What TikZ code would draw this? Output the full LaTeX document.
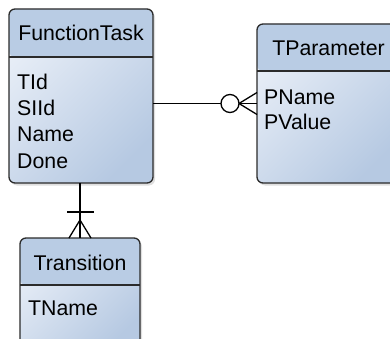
\documentclass[tikz,border=0pt]{standalone}
\usepackage{fontspec}
\setmainfont{Liberation Sans}
\usetikzlibrary{shadows}
\definecolor{hdr}{HTML}{B9CCE4}
\definecolor{bodylight}{HTML}{E8EEF7}
\definecolor{bodydark}{HTML}{B6C9E2}
\definecolor{edge}{HTML}{2B2B2B}
\begin{document}
\begin{tikzpicture}[x=1pt,y=-1pt,
  entity/.style={draw=edge, line width=1.3pt, rounded corners=6pt,
    top color=bodylight, bottom color=bodydark, shading angle=45,
    inner sep=0pt, outer sep=0pt,
    drop shadow={opacity=0.25, shadow xshift=2pt, shadow yshift=-2.5pt},
    path picture={
      \fill[hdr] (path picture bounding box.north west) rectangle
        ([yshift=-#1]path picture bounding box.north east);
      \draw[edge, line width=1.3pt] ([yshift=-#1]path picture bounding box.north west) --
        ([yshift=-#1]path picture bounding box.north east);}},
  ttl/.style={font=\fontsize{21.3}{25}\selectfont, inner sep=0pt, anchor=base},
  attr/.style={font=\fontsize{21.3}{25}\selectfont, inner sep=0pt, anchor=base west},
  conn/.style={line width=1.3pt, black}
]
\useasboundingbox (0,0) rectangle (390,339);

% FunctionTask
\node[entity=48pt, minimum width=144pt, minimum height=174pt] (ft) at (81,96) {};
\node[ttl] (ftt) at (81,40.5) {FunctionTask};
\node[attr] (fa1) at (17,90) {TId};
\node[attr] (fa2) at (17,116) {SIId};
\node[attr] (fa3) at (17,142) {Name};
\node[attr] (fa4) at (17,168) {Done};

% TParameter
\node[entity=47pt, minimum width=143pt, minimum height=159pt] (tp) at (328.5,103.5) {};
\node[ttl] (tpt) at (328.5,55.5) {TParameter};
\node[attr] (pa1) at (264,104.5) {PName};
\node[attr] (pa2) at (264,129.5) {PValue};

% Transition
\node[entity=47pt, minimum width=120pt, minimum height=112pt] (tr) at (80,294) {};
\node[ttl] (trt) at (80,270.5) {Transition};
\node[attr] (ta1) at (28,315.5) {TName};

% FunctionTask -- TParameter (one to zero-or-many)
\coordinate (c1) at (ft.east |- tp.west);
\coordinate (c2) at (tp.west);
\coordinate (cc) at (230,103.5);
\coordinate (apex1) at (239,103.5);
\draw[conn] (c1) -- (c2);
\draw[conn] (apex1) -- ([yshift=11pt]c2);
\draw[conn] (apex1) -- ([yshift=-11pt]c2);
\draw[conn, fill=white] (cc) circle (9pt);

% FunctionTask -- Transition (one to many)
\coordinate (d1) at ([xshift=-1pt]ft.south);
\coordinate (d2) at (tr.north);
\coordinate (apex2) at (80,220);
\draw[conn] (d1) -- (d2);
\draw[conn] (67,212) -- (94,212);
\draw[conn] (apex2) -- ([xshift=-11pt]d2);
\draw[conn] (apex2) -- ([xshift=11pt]d2);
\end{tikzpicture}
\end{document}
